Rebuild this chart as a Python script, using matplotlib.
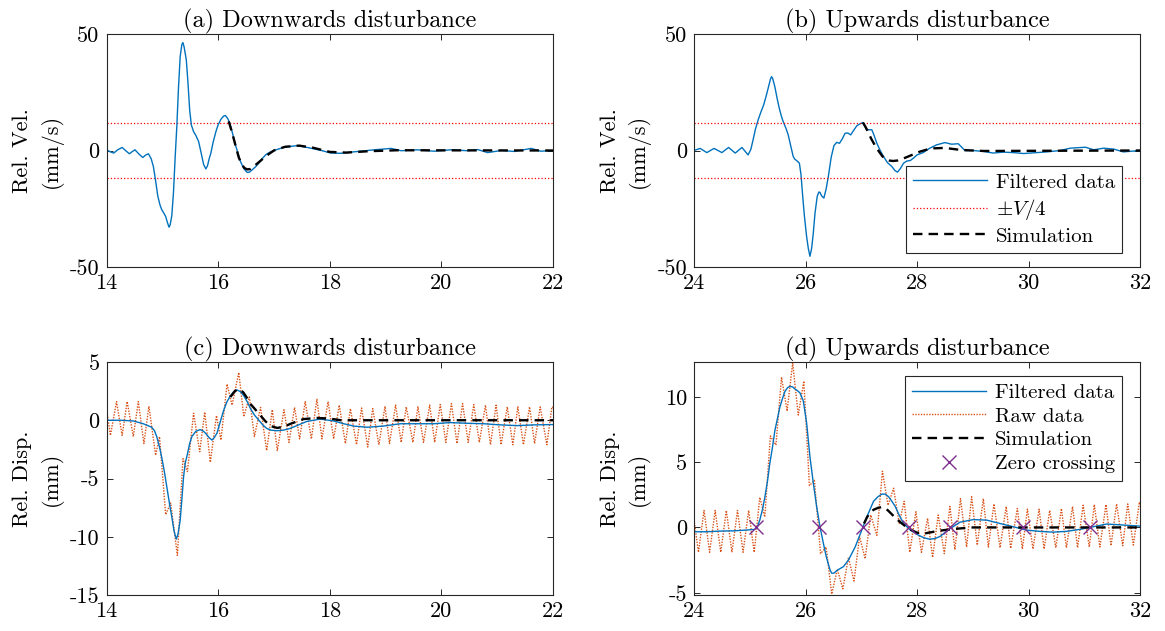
import numpy as np
import matplotlib.pyplot as plt

# ---- relative velocity, downwards disturbance (a) ----
t_vel_down = [14.0, 14.07, 14.13, 14.2, 14.28, 14.35, 14.41, 14.46, 14.51, 14.58,
              14.65, 14.70, 14.75, 14.80, 14.84, 14.88, 14.92, 14.96, 14.99, 15.03,
              15.06, 15.09, 15.12, 15.14, 15.17, 15.20, 15.23, 15.26, 15.29, 15.32,
              15.35, 15.37, 15.39, 15.43, 15.46, 15.49, 15.52, 15.56, 15.60, 15.65,
              15.70, 15.74, 15.78, 15.81, 15.84, 15.87, 15.91, 15.96, 16.00, 16.05,
              16.10, 16.13, 16.17, 16.21, 16.26, 16.31, 16.36, 16.40, 16.46, 16.52,
              16.56, 16.61, 16.67, 16.73, 16.79, 16.85, 16.92, 17.00, 17.18, 17.42,
              17.66, 17.85, 18.02, 18.20, 18.38, 18.60, 18.80, 19.10, 19.28, 19.57,
              19.87, 20.17, 20.47, 20.65, 20.83, 21.07, 21.31, 21.61, 21.78, 22.0]
vel_down = [0.3, -0.6, -1.1, 0.3, 1.3, -0.2, -1.4, -0.5, 0.3, -1.5,
            -3.0, -2.0, -1.4, -3.5, -6.9, -13.0, -19.7, -23.5, -25.4, -27.0,
            -28.3, -30.8, -32.9, -32.0, -28.0, -18.0, -3.0, 10.3, 27.0, 40.3,
            45.5, 46.3, 44.5, 38.9, 29.0, 17.4, 11.0, 8.1, 6.5, 3.9,
            -1.5, -6.0, -7.9, -6.5, -3.5, -1.1, 3.5, 8.1, 11.0, 13.4,
            14.8, 15.0, 13.8, 11.7, 7.2, 2.4, -1.5, -4.7, -7.8, -9.4,
            -9.3, -8.3, -7.0, -5.4, -3.5, -1.9, -0.8, 0.0, 1.4, 2.1,
            1.0, 0.0, -1.1, -1.2, -0.7, -0.2, 0.3, 0.9, -0.1, 0.3,
            -0.3, 0.3, -0.1, 0.4, -0.9, 0.0, -0.4, 0.9, -0.3, 0.0]
t_vel_down_sim = [16.19, 16.24, 16.28, 16.33, 16.37, 16.42, 16.47, 16.52, 16.57, 16.63,
                  16.70, 16.78, 16.85, 17.0, 17.2, 17.45, 17.7, 18.0, 18.3, 18.7,
                  19.2, 22.0]
vel_down_sim = [12.5, 8.5, 5.0, 0.5, -3.0, -5.8, -7.5, -8.1, -8.0, -7.0,
                -5.6, -4.0, -2.5, 0.0, 1.6, 2.1, 1.2, -0.6, -0.9, -0.3,
                0.1, 0.0]

# ---- relative velocity, upwards disturbance (b) ----
t_vel_up = [24.0, 24.11, 24.23, 24.36, 24.50, 24.62, 24.74, 24.86, 24.97, 25.02,
            25.06, 25.10, 25.15, 25.20, 25.25, 25.29, 25.33, 25.37, 25.39, 25.41,
            25.45, 25.49, 25.53, 25.57, 25.60, 25.65, 25.69, 25.73, 25.78, 25.81,
            25.84, 25.87, 25.89, 25.92, 25.95, 25.98, 26.02, 26.05, 26.08, 26.11,
            26.14, 26.17, 26.21, 26.24, 26.26, 26.29, 26.33, 26.37, 26.41, 26.46,
            26.51, 26.56, 26.61, 26.66, 26.71, 26.76, 26.81, 26.86, 26.92, 26.98,
            27.03, 27.06, 27.09, 27.14, 27.19, 27.23, 27.28, 27.34, 27.40, 27.47,
            27.55, 27.60, 27.65, 27.70, 27.76, 27.82, 27.88, 27.94, 28.0, 28.11,
            28.23, 28.35, 28.50, 28.62, 28.74, 28.86, 29.01, 29.19, 29.37, 29.55,
            29.73, 29.91, 30.15, 30.33, 30.57, 30.75, 31.02, 31.17, 31.35, 31.53,
            31.70, 32.0]
vel_up = [0.0, 0.9, -0.9, 0.9, -0.9, 1.3, -1.1, 1.3, -1.9, 0.5,
          4.6, 9.0, 13.1, 16.5, 19.6, 23.0, 26.7, 30.5, 31.7, 31.0,
          27.4, 22.5, 18.1, 14.5, 12.4, 9.5, 6.7, 2.5, -2.6, -3.8,
          -4.3, -5.0, -5.4, -10.5, -19.7, -28.0, -36.9, -42.0, -45.4, -42.0,
          -35.4, -27.0, -19.7, -17.8, -18.0, -19.5, -20.4, -16.5, -11.1, -3.0,
          2.1, 3.5, 3.1, 5.0, 7.4, 7.5, 6.7, 8.5, 10.6, 11.5,
          12.0, 10.5, 9.1, 8.9, 8.9, 6.5, 3.1, 0.0, -2.6, -5.2,
          -6.9, -8.5, -9.3, -7.8, -5.4, -4.5, -4.3, -3.2, -1.9, -0.9,
          1.0, 2.4, 3.4, 2.7, 2.9, 0.0, 0.0, -0.4, -1.1, -0.7,
          -0.9, -1.3, -0.9, -0.6, 0.0, 1.0, 1.4, 0.3, 1.0, 0.6,
          -0.6, 0.0]
t_vel_up_sim = [27.03, 27.08, 27.12, 27.18, 27.25, 27.32, 27.38, 27.44, 27.5, 27.57,
                27.65, 27.75, 27.85, 28.05, 28.25, 28.5, 28.8, 29.2, 32.0]
vel_up_sim = [12.0, 10.0, 8.0, 5.0, 2.0, -0.5, -2.5, -3.7, -4.3, -4.5,
              -4.3, -3.5, -2.5, -0.5, 0.9, 1.1, 0.2, -0.2, 0.0]

quarter_speed = 11.8  # V/4 in mm/s

# ---- relative displacement, downwards disturbance (c) ----
t_disp_down = [14.0, 14.25, 14.48, 14.66, 14.81, 14.86, 14.90, 14.95, 14.99, 15.04,
               15.08, 15.13, 15.17, 15.21, 15.25, 15.28, 15.32, 15.35, 15.38, 15.41,
               15.45, 15.49, 15.53, 15.60, 15.68, 15.74, 15.79, 15.84, 15.89, 15.93,
               15.98, 16.04, 16.10, 16.16, 16.22, 16.28, 16.34, 16.40, 16.46, 16.52,
               16.58, 16.65, 16.73, 16.80, 16.87, 16.95, 17.05, 17.17, 17.29, 17.44,
               17.59, 17.83, 18.07, 18.25, 18.43, 18.67, 18.96, 19.26, 19.56, 19.86,
               20.16, 20.46, 20.76, 21.06, 21.36, 21.65, 22.0]
disp_down = [0.0, 0.0, -0.06, -0.3, -0.6, -0.9, -1.4, -2.3, -3.2, -4.5,
             -5.7, -7.2, -8.3, -9.5, -10.2, -9.8, -8.6, -6.8, -4.9, -3.7,
             -2.9, -2.0, -1.4, -0.95, -0.8, -0.95, -1.2, -1.5, -1.7, -1.5,
             -1.1, -0.1, 0.86, 1.6, 2.1, 2.45, 2.6, 2.45, 2.1, 1.6,
             1.0, 0.45, 0.0, -0.4, -0.7, -0.85, -0.9, -0.85, -0.7, -0.4,
             -0.1, 0.1, -0.06, -0.3, -0.5, -0.6, -0.5, -0.3, -0.3, -0.3,
             -0.2, -0.26, -0.3, -0.4, -0.46, -0.4, -0.37]
t_disp_down_sim = [16.22, 16.30, 16.37, 16.45, 16.52, 16.58, 16.67, 16.76, 16.85, 16.94,
                   17.06, 17.18, 17.3, 17.53, 17.77, 18.0, 18.2, 22.0]
disp_down_sim = [2.0, 2.5, 2.7, 2.4, 1.9, 1.4, 0.9, 0.4, -0.1, -0.5,
                 -0.66, -0.55, -0.3, 0.1, 0.2, 0.14, 0.0, 0.0]
t_disp_down_raw = [14.0, 14.07, 14.18, 14.28, 14.37, 14.48, 14.57, 14.67, 14.76, 14.88,
                   14.95, 15.06, 15.15, 15.27, 15.37, 15.45, 15.56, 15.67, 15.76, 15.86,
                   15.97, 16.05, 16.16, 16.25, 16.37, 16.46, 16.56, 16.65, 16.76, 16.87,
                   16.97, 17.06, 17.18, 17.27, 17.37, 17.46, 17.56, 17.67, 17.77, 17.86,
                   17.97, 18.07, 18.17, 18.28, 18.37, 18.48, 18.57, 18.68, 18.77, 18.88,
                   18.99, 19.07, 19.18, 19.28, 19.37, 19.49, 19.58, 19.68, 19.79, 19.88,
                   19.98, 20.08, 20.18, 20.28, 20.38, 20.48, 20.58, 20.68, 20.79, 20.88,
                   20.98, 21.07, 21.18, 21.28, 21.37, 21.47, 21.58, 21.67, 21.77, 21.89,
                   21.98, 22.0]
disp_down_raw = [1.0, -1.3, 1.6, -1.3, 1.6, -1.4, 1.6, -2.0, 1.2, -3.0,
                 -1.4, -8.1, -7.1, -11.6, -3.3, -4.4, 0.6, -2.7, 0.7, -3.6,
                 0.4, -1.7, 3.1, 1.3, 4.1, 0.3, 2.0, -1.4, 1.1, -2.6,
                 0.9, -2.6, 0.9, -1.9, 1.1, -1.6, 1.6, -1.6, 1.8, -1.6,
                 1.6, -1.6, 1.3, -2.0, 1.0, -2.1, 1.05, -2.3, 1.0, -2.1,
                 1.2, -2.0, 1.3, -1.9, 1.15, -1.9, 1.15, -1.9, 1.3, -1.9,
                 1.35, -1.9, 1.43, -2.0, 1.43, -1.9, 1.35, -1.9, 1.3, -2.1,
                 1.3, -2.1, 1.15, -2.1, 1.15, -2.1, 1.15, -2.0, 1.15, -2.1,
                 1.15, 1.1]

# ---- relative displacement, upwards disturbance (d) ----
t_disp_up = [24.0, 24.23, 24.47, 24.71, 24.94, 25.09, 25.14, 25.18, 25.23, 25.27,
             25.32, 25.36, 25.41, 25.45, 25.50, 25.54, 25.59, 25.63, 25.68, 25.72,
             25.77, 25.81, 25.86, 25.90, 25.96, 26.02, 26.08, 26.14, 26.20, 26.26,
             26.32, 26.37, 26.41, 26.44, 26.47, 26.51, 26.56, 26.68, 26.77, 26.89,
             27.01, 27.10, 27.16, 27.22, 27.30, 27.37, 27.43, 27.49, 27.55, 27.61,
             27.68, 27.76, 27.88, 28.03, 28.13, 28.23, 28.32, 28.41, 28.59, 28.77,
             29.01, 29.25, 29.49, 29.73, 29.96, 30.20, 30.44, 30.68, 30.92, 31.16,
             31.40, 31.64, 32.0]
disp_up = [-0.33, -0.33, -0.28, -0.26, -0.2, -0.15, 0.1, 0.56, 1.4, 2.3,
           3.6, 4.9, 6.2, 7.4, 8.4, 9.2, 9.9, 10.4, 10.7, 10.8,
           10.75, 10.6, 10.45, 10.3, 9.7, 8.0, 5.4, 3.4, 1.6, 0.05,
           -1.2, -2.2, -2.8, -3.25, -3.5, -3.5, -3.3, -3.0, -2.5, -1.5,
           -0.2, 0.8, 1.4, 2.0, 2.35, 2.55, 2.55, 2.35, 2.0, 1.6,
           0.95, 0.3, -0.2, -0.6, -0.8, -0.9, -0.85, -0.7, -0.1, 0.4,
           0.6, 0.56, 0.3, 0.05, -0.2, -0.3, -0.36, -0.3, -0.15, 0.05,
           0.26, 0.2, 0.1]
t_disp_up_sim = [27.05, 27.1, 27.15, 27.22, 27.3, 27.36, 27.42, 27.48, 27.55, 27.62,
                 27.7, 27.85, 28.0, 28.15, 28.4, 28.7, 29.0, 32.0]
disp_up_sim = [0.3, 0.75, 1.1, 1.35, 1.5, 1.55, 1.5, 1.3, 1.0, 0.7,
               0.4, -0.1, -0.4, -0.45, -0.25, -0.1, 0.0, 0.0]
t_disp_up_raw = [24.0, 24.08, 24.18, 24.28, 24.38, 24.48, 24.58, 24.68, 24.78, 24.88,
                 24.98, 25.08, 25.18, 25.27, 25.37, 25.47, 25.57, 25.67, 25.77, 25.87,
                 25.97, 26.07, 26.16, 26.27, 26.37, 26.47, 26.57, 26.67, 26.77, 26.87,
                 26.97, 27.07, 27.17, 27.28, 27.38, 27.48, 27.58, 27.68, 27.77, 27.87,
                 27.98, 28.08, 28.19, 28.28, 28.38, 28.49, 28.59, 28.68, 28.78, 28.89,
                 28.98, 29.08, 29.19, 29.28, 29.38, 29.49, 29.60, 29.68, 29.80, 29.89,
                 29.98, 30.08, 30.19, 30.28, 30.38, 30.49, 30.59, 30.68, 30.79, 30.88,
                 30.98, 31.09, 31.18, 31.28, 31.39, 31.48, 31.58, 31.69, 31.78, 31.88,
                 31.99, 32.0]
disp_up_raw = [0.6, -1.9, 1.3, -1.9, 1.3, -1.9, 1.3, -1.9, 1.3, -1.9,
               1.3, -1.9, 2.3, 0.8, 7.0, 6.3, 11.5, 8.9, 12.6, 8.6,
               11.2, 3.2, 3.6, -2.0, -1.5, -5.1, -3.2, -4.7, -2.3, -4.1,
               -0.7, -2.4, 0.95, -0.6, 4.3, 1.7, 3.0, 0.3, 2.0, -1.9,
               1.2, -1.9, 0.7, -2.3, 0.95, -2.0, 1.6, -1.7, 2.2, -1.5,
               2.35, -1.35, 2.2, -1.5, 1.8, -1.55, 1.6, -1.6, 1.45, -1.65,
               1.4, -1.65, 1.4, -1.65, 1.3, -1.55, 1.45, -1.55, 1.6, -1.55,
               1.7, -1.5, 1.75, -1.5, 1.75, -1.4, 1.8, -1.4, 1.8, -1.35,
               1.95, 1.7]
t_zero_cross = [25.11, 26.25, 27.03, 27.85, 28.59, 29.91, 31.10]
zero_cross = [0.0, 0.0, 0.0, 0.0, 0.0, 0.0, 0.0]

# ---- styling ----
C_FILT = "#0072BD"
C_RAW = "#D95319"
C_ZERO = "#7E2F8E"
C_AX = "#262626"
FS = 16

plt.rcParams["font.family"] = "cmr10"
plt.rcParams["mathtext.fontset"] = "cm"
plt.rcParams["axes.unicode_minus"] = False
plt.rcParams["font.size"] = FS

fig = plt.figure(figsize=(11.65, 6.31), dpi=100)

W, H = 1165.0, 631.0
boxes = {
    "a": (106.5, 34, 553, 267),
    "b": (694, 34, 1140, 267),
    "c": (106.5, 362, 553, 595),
    "d": (694, 362, 1140, 595),
}


def make_axes(key):
    x0, y0, x1, y1 = boxes[key]
    ax = fig.add_axes([x0 / W, 1 - y1 / H, (x1 - x0) / W, (y1 - y0) / H])
    for s in ax.spines.values():
        s.set_color(C_AX)
        s.set_linewidth(0.8)
    ax.tick_params(direction="in", top=True, right=True, length=4.5,
                   width=0.7, color=C_AX, labelsize=FS, pad=5)
    return ax


def fmt_ticks(ax, xt, yt):
    ax.set_xticks(xt)
    ax.set_xticklabels([str(v) for v in xt])
    ax.set_yticks(yt)
    ax.set_yticklabels([str(v) for v in yt])


def set_ylab(ax, text):
    ax.set_ylabel(text, linespacing=1.45, fontsize=FS)
    ax.yaxis.set_label_coords(-0.098, 0.5)


def style_legend(leg):
    leg.get_frame().set_edgecolor(C_AX)
    leg.get_frame().set_linewidth(0.8)


legend_kw = dict(fontsize=15, frameon=True, fancybox=False, handlelength=3.55,
                 handletextpad=0.4, borderpad=0.35, labelspacing=0.25,
                 borderaxespad=0.0, framealpha=1.0)

# (a)
ax = make_axes("a")
ax.axhline(quarter_speed, color="r", ls=":", lw=0.9)
ax.axhline(-quarter_speed, color="r", ls=":", lw=0.9)
ax.plot(t_vel_down, vel_down, color=C_FILT, lw=1.0)
ax.plot(t_vel_down_sim, vel_down_sim, color="k", lw=1.7, dashes=(4.0, 2.6))
ax.set_xlim(14, 22)
ax.set_ylim(-50, 50)
fmt_ticks(ax, [14, 16, 18, 20, 22], [-50, 0, 50])
set_ylab(ax, "Rel. Vel.\n(mm/s)")
ax.set_title("(a) Downwards disturbance", fontsize=17.5, pad=5)

# (b)
ax = make_axes("b")
h_filt, = ax.plot(t_vel_up, vel_up, color=C_FILT, lw=1.0)
h_v4 = ax.axhline(quarter_speed, color="r", ls=":", lw=0.9)
ax.axhline(-quarter_speed, color="r", ls=":", lw=0.9)
h_sim, = ax.plot(t_vel_up_sim, vel_up_sim, color="k", lw=1.7, dashes=(4.0, 2.6))
ax.set_xlim(24, 32)
ax.set_ylim(-50, 50)
fmt_ticks(ax, [24, 26, 28, 30, 32], [-50, 0, 50])
set_ylab(ax, "Rel. Vel.\n(mm/s)")
ax.set_title("(b) Upwards disturbance", fontsize=17.5, pad=5)
leg = ax.legend([h_filt, h_v4, h_sim],
                ["Filtered data", r"$\pm V/4$", "Simulation"],
                loc="lower right", bbox_to_anchor=(0.96, 0.06), **legend_kw)
style_legend(leg)

# (c)
ax = make_axes("c")
ax.plot(t_disp_down_raw, disp_down_raw, color=C_RAW, lw=1.0, ls=(0, (1, 1)))
ax.plot(t_disp_down, disp_down, color=C_FILT, lw=1.0)
ax.plot(t_disp_down_sim, disp_down_sim, color="k", lw=1.7, dashes=(4.0, 2.6))
ax.set_xlim(14, 22)
ax.set_ylim(-15, 5)
fmt_ticks(ax, [14, 16, 18, 20, 22], [-15, -10, -5, 0, 5])
set_ylab(ax, "Rel. Disp.\n(mm)")
ax.set_title("(c) Downwards disturbance", fontsize=17.5, pad=5)

# (d)
ax = make_axes("d")
h_raw, = ax.plot(t_disp_up_raw, disp_up_raw, color=C_RAW, lw=1.0, ls=(0, (1, 1)))
h_filt, = ax.plot(t_disp_up, disp_up, color=C_FILT, lw=1.0)
h_sim, = ax.plot(t_disp_up_sim, disp_up_sim, color="k", lw=1.7, dashes=(4.0, 2.6))
h_zero, = ax.plot(t_zero_cross, zero_cross, ls="none", marker="x", ms=10,
                  mew=1.0, color=C_ZERO)
ax.set_xlim(24, 32)
ax.set_ylim(-5.17, 12.66)
fmt_ticks(ax, [24, 26, 28, 30, 32], [-5, 0, 5, 10])
set_ylab(ax, "Rel. Disp.\n(mm)")
ax.set_title("(d) Upwards disturbance", fontsize=17.5, pad=5)
leg = ax.legend([h_filt, h_raw, h_sim, h_zero],
                ["Filtered data", "Raw data", "Simulation", "Zero crossing"],
                loc="upper right", bbox_to_anchor=(0.96, 0.94), **legend_kw)
style_legend(leg)

fig.savefig("out.png", dpi=100)
